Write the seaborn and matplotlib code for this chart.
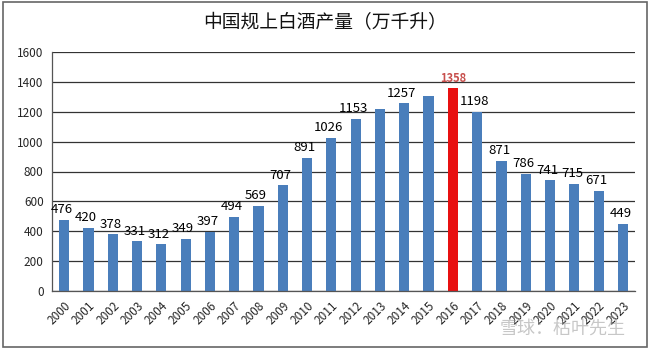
import matplotlib
matplotlib.use("Agg")
import matplotlib.pyplot as plt
import numpy as np
import pandas as pd
import seaborn as sns

# 中国规上白酒产量（万千升）
years = [str(y) for y in range(2000, 2024)]
output = [476, 420, 378, 331, 312, 349, 397, 494, 569, 707, 891, 1026,
          1153, 1220, 1257, 1305, 1358, 1198, 871, 786, 741, 715, 671, 449]
labels = ['476', '420', '378', '331', '312', '349', '397', '494', '569', '707',
          '891', '1026', '1153', '', '1257', '', '1358', '1198', '871', '786',
          '741', '715', '671', '449']
peak_year = '2016'

sns.set_style('white')
plt.rcParams['font.family'] = ['Noto Sans CJK SC', 'DejaVu Sans']

df = pd.DataFrame({'year': years, 'output': output})
colors = ['#E81010' if y == peak_year else '#4A7EBB' for y in years]

fig = plt.figure(figsize=(6.5, 3.5), dpi=100)
ax = fig.add_axes([0.08, 0.169, 0.897, 0.682])

sns.barplot(data=df, x='year', y='output', hue='year', palette=colors,
            legend=False, width=0.42, saturation=1, ax=ax, edgecolor='none')

ax.set_ylim(0, 1600)
ax.set_xlim(-0.5, len(years) - 0.5)
ax.set_yticks(range(0, 1601, 200))
ax.yaxis.grid(True, color='#333333', lw=0.9)
ax.set_axisbelow(True)
for s in ['top', 'right']:
    ax.spines[s].set_visible(False)
for s in ['left', 'bottom']:
    ax.spines[s].set_color('#555555')
    ax.spines[s].set_linewidth(0.9)

ax.set_xlabel('')
ax.set_ylabel('')
ax.tick_params(axis='y', length=4, color='#555555', labelsize=8.5, pad=2)
ax.tick_params(axis='x', which='major', length=0, labelsize=8.5, pad=6)
ax.set_xticks(np.arange(-0.5, len(years), 1), minor=True)
ax.tick_params(axis='x', which='minor', length=4, color='#555555')
plt.setp(ax.get_xticklabels(), rotation=45, ha='right', rotation_mode='anchor')

for i, (v, t) in enumerate(zip(output, labels)):
    if not t:
        continue
    if years[i] == peak_year:
        ax.text(i, v + 25, t, ha='center', va='bottom', fontsize=8,
                color='#C8504D', fontweight='bold')
    else:
        ax.text(i - 0.1, v + 25, t, ha='center', va='bottom', fontsize=9.5,
                color='black')

fig.text(0.5, 0.935, '中国规上白酒产量（万千升）', ha='center', va='center',
         fontsize=13.5, color='#111111')

# 水印
fig.text(0.865, 0.06, '雪球：枯叶先生', ha='center', va='center', fontsize=13,
         color='#999999', alpha=0.55)

# 图表外框
fig.patches.append(plt.Rectangle((0.005, 0.008), 0.99, 0.985, transform=fig.transFigure,
                                 fill=False, edgecolor='#666666', lw=1.2))

fig.savefig('out.png', dpi=100)
